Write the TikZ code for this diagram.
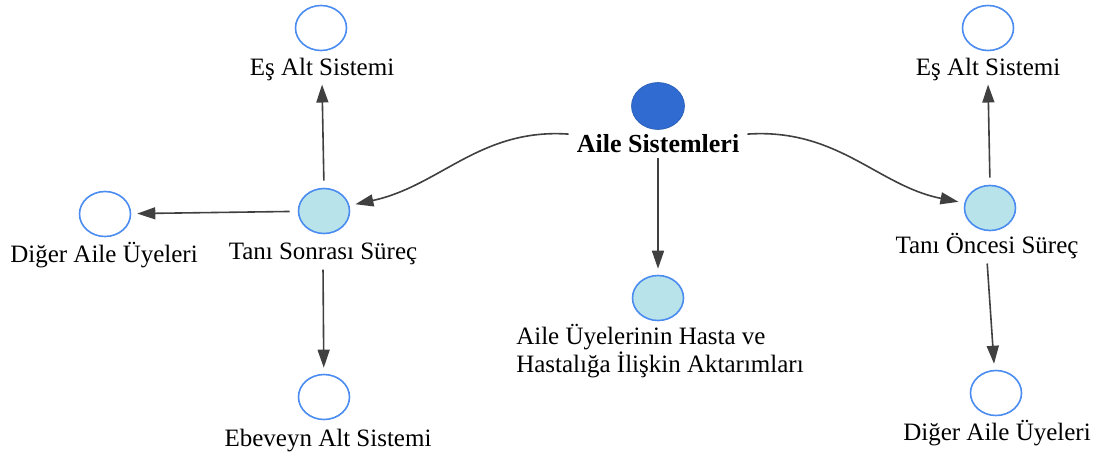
\documentclass[tikz,border=0pt]{standalone}
\usepackage{fontspec}
\setmainfont{Liberation Serif}
\usetikzlibrary{arrows.meta,shapes.geometric}

\definecolor{ringblue}{HTML}{4A8CF0}
\definecolor{paleteal}{HTML}{B9E3EA}
\definecolor{hubblue}{HTML}{2F6BD0}
\definecolor{linkgray}{HTML}{404040}

\begin{document}
\begin{tikzpicture}[x=1pt,y=-1pt,
  bubble/.style={ellipse, draw=ringblue, line width=1.6pt, fill=white,
    minimum width=51pt, minimum height=45pt, inner sep=0pt},
  stage/.style={bubble, fill=paleteal},
  hub/.style={ellipse, fill=hubblue, draw=hubblue!85!black, line width=0.6pt,
    minimum width=53pt, minimum height=47pt, inner sep=0pt},
  caption/.style={anchor=base, inner sep=2pt, font=\fontsize{25}{25}\selectfont},
  link/.style={draw=linkgray, line width=1.6pt, -{Triangle[length=18pt,width=12pt]}},
]
\useasboundingbox (0,0) rectangle (1108,455);

% centre
\node[hub] (hub) at (658,106) {};
\node[caption, font=\fontsize{26}{26}\selectfont\bfseries] (hubL) at (658,152) {Aile Sistemleri};

\node[stage] (au) at (658,298) {};
\node[caption, align=left] (auL) at (660,372) {Aile Üyelerinin Hasta ve\\[0pt]Hastalığa İlişkin Aktarımları};

% after diagnosis (left)
\node[stage] (ts) at (324,211) {};
\node[caption] (tsL) at (323,259) {Tanı Sonrası Süreç};

\node[bubble] (esA) at (321,28) {};
\node[caption] (esAL) at (322,75) {Eş Alt Sistemi};

\node[bubble] (dgA) at (105,214) {};
\node[caption] (dgAL) at (104,262) {Diğer Aile Üyeleri};

\node[bubble] (eb) at (324,397) {};
\node[caption] (ebL) at (328,446) {Ebeveyn Alt Sistemi};

% before diagnosis (right)
\node[stage] (to) at (990,208) {};
\node[caption] (toL) at (987,253) {Tanı Öncesi Süreç};

\node[bubble] (esB) at (988,28) {};
\node[caption] (esBL) at (988,75) {Eş Alt Sistemi};

\node[bubble] (dgB) at (996,393) {};
\node[caption] (dgBL) at (997,440) {Diğer Aile Üyeleri};

% connectors
\draw[link, shorten >=6pt] ([shift={(-6,-9)}]hubL.west)
  .. controls (480,128) and (440,186) .. (ts);
\draw[link, shorten >=6pt] ([shift={(6,-9)}]hubL.east)
  .. controls (838,128) and (878,186) .. (to);
\draw[link, shorten <=4pt, shorten >=6pt] (hubL.south) -- (au);

\draw[link, shorten <=7pt, shorten >=2pt] (ts.north) -- (esAL.south);
\draw[link, shorten <=8pt, shorten >=6pt] (ts) -- (dgA);
\draw[link, shorten <=3pt, shorten >=6pt] (tsL.south) -- (eb);

\draw[link, shorten <=7pt, shorten >=2pt] (to.north) -- (esBL.south);
\draw[link, shorten <=3pt, shorten >=6pt] (toL.south) -- (dgB);
\end{tikzpicture}
\end{document}
